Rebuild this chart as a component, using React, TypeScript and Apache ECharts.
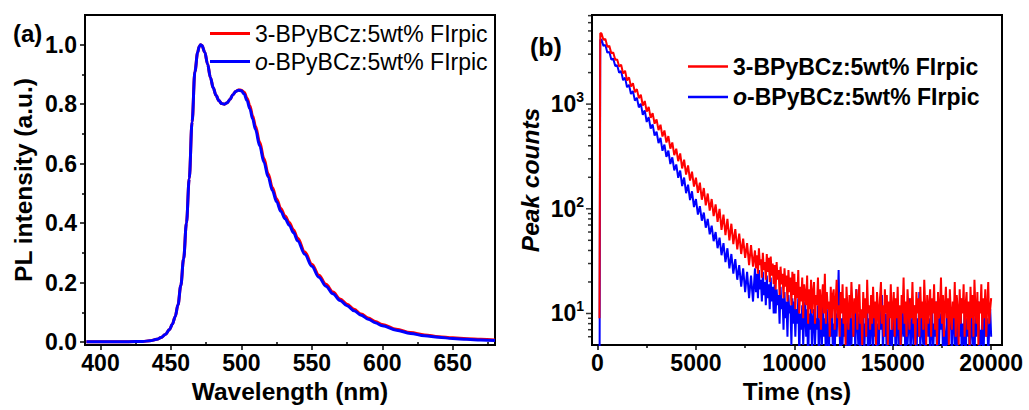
import React, { useEffect, useRef } from "react";
import * as echarts from "echarts";

const FONT = 'Arial, "Liberation Sans", Helvetica, sans-serif';
const RED = "#ff0000";
const BLUE = "#0000ff";

const NAME_RED = "3-BPyBCz:5wt% FIrpic";
const NAME_BLUE = "o-BPyBCz:5wt% FIrpic";

// ---------- (a) PL spectra ----------
const PL_WAVELENGTH = [
  390, 400, 410, 420, 430, 435, 440, 443, 446, 449, 451, 453, 455, 457, 459, 461, 463, 465, 467, 469,
  470, 471, 472, 474, 476, 478, 480, 482, 484, 486, 488, 490, 492, 494, 496, 498, 500, 502, 504, 506,
  508, 510, 513, 516, 519, 522, 525, 528, 531, 534, 537, 540, 545, 550, 555, 560, 565, 570, 575, 580,
  585, 590, 595, 600, 610, 620, 630, 640, 650, 660, 670, 680,
];
const PL_BLUE = [
  0.001, 0.001, 0.001, 0.001, 0.002, 0.004, 0.009, 0.015, 0.025, 0.042, 0.06, 0.085, 0.125, 0.19, 0.28, 0.4, 0.55, 0.74, 0.91, 0.975,
  0.993, 1.0, 0.997, 0.975, 0.935, 0.89, 0.855, 0.83, 0.812, 0.802, 0.8, 0.805, 0.817, 0.832, 0.843, 0.847, 0.845, 0.834, 0.812, 0.785,
  0.75, 0.715, 0.66, 0.605, 0.555, 0.51, 0.472, 0.44, 0.415, 0.393, 0.368, 0.34, 0.295, 0.255, 0.218, 0.188, 0.162, 0.14, 0.122, 0.105,
  0.09, 0.077, 0.065, 0.055, 0.04, 0.029, 0.021, 0.016, 0.012, 0.009, 0.007, 0.005,
];
const PL_RED = [
  0.001, 0.001, 0.001, 0.001, 0.002, 0.004, 0.009, 0.015, 0.025, 0.042, 0.06, 0.085, 0.125, 0.19, 0.28, 0.4, 0.55, 0.74, 0.91, 0.975,
  0.993, 1.0, 0.997, 0.975, 0.935, 0.89, 0.855, 0.83, 0.812, 0.802, 0.8, 0.805, 0.817, 0.832, 0.843, 0.848, 0.847, 0.84, 0.82, 0.795,
  0.76, 0.726, 0.672, 0.617, 0.566, 0.52, 0.481, 0.449, 0.424, 0.402, 0.377, 0.349, 0.303, 0.262, 0.225, 0.194, 0.168, 0.145, 0.127, 0.11,
  0.094, 0.081, 0.069, 0.059, 0.043, 0.032, 0.024, 0.018, 0.014, 0.011, 0.009, 0.007,
];
const PL_X_MIN = 389;
const PL_X_MAX = 680;
const PL_Y_MIN = -0.01;
const PL_Y_MAX = 1.1;
const PL_X_TICKS = [400, 450, 500, 550, 600, 650];
const PL_X_MINOR = [425, 475, 525, 575, 625, 675];
const PL_Y_TICKS = [0, 0.2, 0.4, 0.6, 0.8, 1.0];
const PL_Y_MINOR = [0.1, 0.3, 0.5, 0.7, 0.9];

// ---------- (b) transient decay ----------
const DECAY_RISE_T = [100, 140];
const DECAY_RISE_RED = [9, 4750];
const DECAY_RISE_BLUE = [1, 4100];
// early part: 200 ns ... 7900 ns every 100 ns
const DECAY_EARLY_START = 200;
const DECAY_EARLY_STEP = 100;
const DECAY_EARLY_RED = [
  4750, 4120, 4200, 3530, 3600, 3060, 3110, 2650, 2670, 2290,
  2380, 1960, 2080, 1680, 1800, 1470, 1580, 1300, 1390, 1140,
  1230, 970, 1070, 850, 940, 740, 820, 650, 715, 565,
  635, 490, 560, 430, 495, 375, 430, 325, 375, 285,
  338, 243, 295, 212, 260, 186, 226, 163, 198, 142,
  178, 122, 158, 108, 140, 96, 124, 85, 110, 75,
  100, 63, 88, 56, 80, 50, 72, 46, 64, 41,
  58, 37, 52, 34, 47, 29, 45, 28,
];
const DECAY_EARLY_BLUE = [
  4150, 3600, 3680, 3100, 3160, 2670, 2720, 2310, 2350, 1990,
  2070, 1690, 1790, 1450, 1530, 1250, 1330, 1080, 1150, 930,
  1010, 790, 870, 675, 750, 585, 640, 500, 545, 425,
  475, 358, 410, 313, 360, 268, 310, 233, 265, 198,
  232, 165, 199, 141, 170, 121, 147, 104, 124, 88,
  106, 77, 92, 66, 80, 57, 69, 49, 60, 42,
  53, 36, 47, 31, 42, 27, 37, 24, 33, 21,
  29, 18, 27, 16, 25, 14, 23, 13,
];
// late part: 8000 ns ... 20000 ns every 50 ns
const DECAY_LATE_START = 8000;
const DECAY_LATE_STEP = 50;
const DECAY_LATE_RED = [
  40, 27, 36, 24, 42, 29, 33, 22, 38, 26, 31, 21, 37, 25, 34, 20, 35, 23, 30, 19,
  29, 17, 31, 21, 26, 15, 28, 19, 24, 14, 27, 18, 23, 13, 26, 16, 22, 12, 25, 15,
  24, 11, 20, 14, 26, 10, 18, 13, 22, 9, 19, 15, 12, 23, 8, 17, 11, 21, 10, 16,
  20, 8, 15, 12, 22, 9, 17, 7, 14, 19, 10, 24, 8, 16, 11, 13, 6, 18, 9, 15,
  17, 7, 13, 21, 9, 12, 6, 16, 10, 19, 8, 14, 5, 18, 11, 7, 15, 9, 20, 12,
  6, 14, 10, 17, 7, 13, 19, 8, 11, 5, 16, 9, 14, 6, 21, 10, 12, 7, 15, 8,
  18, 9, 13, 5, 16, 11, 7, 14, 20, 8, 12, 6, 17, 10, 15, 5, 13, 9, 19, 7,
  11, 16, 6, 14, 9, 18, 7, 12, 5, 15, 10, 22, 8, 13, 6, 17, 11, 7, 14, 9,
  20, 8, 12, 5, 16, 10, 14, 6, 18, 9, 13, 7, 21, 11, 5, 15, 8, 12, 17, 6,
  14, 10, 19, 7, 13, 5, 16, 9, 11, 22, 8, 15, 6, 12, 18, 9, 14, 5, 17, 10,
  7, 13, 9, 20, 6, 15, 11, 5, 17, 8, 14, 10, 19, 6, 12, 16, 7, 13, 5, 18,
  9, 15, 6, 21, 11, 8, 16, 5, 13, 10, 19, 7, 14, 9, 17, 6, 12, 20, 8, 11,
  14,
];
const DECAY_LATE_BLUE = [
  27, 16, 24, 14, 26, 17, 21, 13, 25, 15, 20, 12, 23, 14, 19, 11, 22, 13, 18, 10,
  19, 10, 17, 12, 15, 8, 18, 11, 14, 7, 16, 9, 13, 6, 15, 10, 12, 5, 14, 8,
  13, 6, 11, 8, 14, 4, 10, 7, 12, 5, 9, 13, 6, 11, 3, 10, 7, 12, 4, 9,
  11, 5, 9, 7, 12, 3, 8, 10, 5, 13, 6, 9, 4, 11, 7, 3, 10, 6, 12, 5,
  8, 4, 10, 6, 12, 26, 7, 3, 9, 5, 11, 6, 8, 4, 10, 7, 3, 12, 5, 9,
  6, 11, 4, 17, 8, 5, 10, 3, 9, 7, 12, 4, 8, 6, 11, 3, 9, 5, 13, 7,
  4, 10, 6, 12, 3, 8, 5, 11, 7, 15, 4, 9, 6, 10, 3, 8, 12, 5, 7, 4,
  9, 6, 11, 3, 8, 13, 5, 10, 4, 7, 12, 6, 9, 3, 11, 5, 8, 14, 4, 7,
  10, 5, 8, 12, 3, 9, 6, 16, 4, 11, 7, 5, 10, 3, 8, 12, 6, 9, 4, 7,
  11, 4, 8, 6, 13, 3, 9, 5, 10, 7, 12, 4, 8, 6, 3, 11, 5, 9, 7, 10,
  4, 8, 12, 5, 9, 3, 7, 11, 6, 14, 4, 8, 5, 10, 3, 9, 6, 12, 4, 7,
  10, 5, 8, 3, 11, 6, 9, 13, 4, 7, 5, 10, 3, 8, 12, 6, 9, 4, 7, 11,
  6,
];
const DECAY_X_MIN = -280;
const DECAY_X_MAX = 20550;
const DECAY_Y_MIN = 5;
const DECAY_Y_MAX = 7100;
const DECAY_X_TICKS = [0, 5000, 10000, 15000, 20000];
const DECAY_X_MINOR = [2500, 7500, 12500, 17500];
const DECAY_Y_MAJOR = [10, 100, 1000];
const DECAY_Y_MINOR = [
  6, 7, 8, 9, 20, 30, 40, 50, 60, 70, 80, 90, 200, 300, 400, 500, 600, 700, 800, 900,
  2000, 3000, 4000, 5000, 6000, 7000,
];

function legendFormatter(name: string) {
  if (name.indexOf("o-") === 0) return "{i|o}" + name.slice(1);
  return name;
}

function buildDecay(rise: number[], early: number[], late: number[]) {
  return [
    ...DECAY_RISE_T.map((t, i) => [t, rise[i]]),
    ...early.map((v, i) => [DECAY_EARLY_START + i * DECAY_EARLY_STEP, v]),
    ...late.map((v, i) => [DECAY_LATE_START + i * DECAY_LATE_STEP, v]),
  ];
}

export default function App() {
  const ref = useRef<HTMLDivElement>(null);

  useEffect(() => {
    if (!ref.current) return;
    const chart = echarts.init(ref.current, null, { renderer: "svg" });

    const axisLine = { show: true, onZero: false, lineStyle: { color: "#000", width: 2 } };
    const tickLine = { color: "#000", width: 1.5 };
    const labelStyle = { color: "#000", fontSize: 23, fontWeight: "bold", fontFamily: FONT };
    const nameStyle = { color: "#000", fontSize: 24.5, fontWeight: "bold", fontFamily: FONT };

    const plRed = PL_WAVELENGTH.map((w, i) => [w, PL_RED[i]]);
    const plBlue = PL_WAVELENGTH.map((w, i) => [w, PL_BLUE[i]]);
    const decayRed = buildDecay(DECAY_RISE_RED, DECAY_EARLY_RED, DECAY_LATE_RED);
    const decayBlue = buildDecay(DECAY_RISE_BLUE, DECAY_EARLY_BLUE, DECAY_LATE_BLUE);

    const minorX = (gridIndex: number, min: number, max: number, values: number[]) => ({
      type: "value",
      gridIndex,
      min,
      max,
      position: "bottom",
      axisLine: { show: false },
      axisTick: { show: true, inside: false, length: 3, customValues: values, lineStyle: tickLine },
      axisLabel: { show: false },
      splitLine: { show: false },
    });

    const option: any = {
      animation: false,
      backgroundColor: "#fff",
      grid: [
        { left: 85, right: 534, top: 15, bottom: 65, show: true, borderColor: "#000", borderWidth: 2 },
        { left: 592, right: 27, top: 15, bottom: 65, show: true, borderColor: "#000", borderWidth: 2 },
      ],
      xAxis: [
        {
          type: "value",
          gridIndex: 0,
          min: PL_X_MIN,
          max: PL_X_MAX,
          position: "bottom",
          axisLine,
          axisTick: { show: true, inside: false, length: 5, customValues: PL_X_TICKS, lineStyle: tickLine },
          axisLabel: { ...labelStyle, margin: 6, customValues: PL_X_TICKS, formatter: (v: number) => String(v) },
          splitLine: { show: false },
          name: "Wavelength (nm)",
          nameLocation: "middle",
          nameGap: 32,
          nameTextStyle: nameStyle,
        },
        minorX(0, PL_X_MIN, PL_X_MAX, PL_X_MINOR),
        {
          type: "value",
          gridIndex: 1,
          min: DECAY_X_MIN,
          max: DECAY_X_MAX,
          position: "bottom",
          axisLine,
          axisTick: { show: true, inside: false, length: 5, customValues: DECAY_X_TICKS, lineStyle: tickLine },
          axisLabel: { ...labelStyle, margin: 6, customValues: DECAY_X_TICKS, formatter: (v: number) => String(v) },
          splitLine: { show: false },
          name: "Time (ns)",
          nameLocation: "middle",
          nameGap: 32,
          nameTextStyle: nameStyle,
        },
        minorX(1, DECAY_X_MIN, DECAY_X_MAX, DECAY_X_MINOR),
      ],
      yAxis: [
        {
          type: "value",
          gridIndex: 0,
          min: PL_Y_MIN,
          max: PL_Y_MAX,
          position: "left",
          axisLine,
          axisTick: { show: true, inside: false, length: 5, customValues: PL_Y_TICKS, lineStyle: tickLine },
          axisLabel: { ...labelStyle, margin: 8, customValues: PL_Y_TICKS, formatter: (v: number) => v.toFixed(1) },
          splitLine: { show: false },
          name: "PL intensity (a.u.)",
          nameLocation: "middle",
          nameGap: 49,
          nameTextStyle: nameStyle,
        },
        {
          type: "value",
          gridIndex: 0,
          min: PL_Y_MIN,
          max: PL_Y_MAX,
          position: "left",
          axisLine: { show: false },
          axisTick: { show: true, inside: false, length: 3, customValues: PL_Y_MINOR, lineStyle: tickLine },
          axisLabel: { show: false },
          splitLine: { show: false },
        },
        {
          type: "log",
          logBase: 10,
          gridIndex: 1,
          min: DECAY_Y_MIN,
          max: DECAY_Y_MAX,
          position: "left",
          axisLine,
          axisTick: { show: false },
          minorTick: { show: false },
          axisLabel: {
            margin: 8,
            showMinLabel: false,
            showMaxLabel: false,
            color: "#000",
            formatter: (v: number) => "{b|10}{s|" + Math.round(Math.log10(v)) + "}",
            rich: {
              b: { fontSize: 23, fontWeight: "bold", fontFamily: FONT, color: "#000", lineHeight: 28 },
              s: { fontSize: 14, fontWeight: "bold", fontFamily: FONT, color: "#000", verticalAlign: "top", lineHeight: 14 },
            },
          },
          splitLine: { show: false },
          name: "Peak counts",
          nameLocation: "middle",
          nameGap: 49,
          nameTextStyle: { ...nameStyle, fontStyle: "italic" },
        },
      ],
      legend: [
        {
          left: 210,
          top: 22,
          padding: 0,
          orient: "vertical",
          icon: "rect",
          itemWidth: 40,
          itemHeight: 3,
          itemGap: 5,
          data: [NAME_RED, NAME_BLUE],
          formatter: legendFormatter,
          textStyle: {
            color: "#000",
            fontSize: 23,
            fontFamily: FONT,
            lineHeight: 22,
            rich: { i: { fontStyle: "italic", fontSize: 23, fontFamily: FONT, color: "#000", lineHeight: 22 } },
          },
          selectedMode: false,
        },
        {
          left: 688,
          top: 55,
          padding: 0,
          orient: "vertical",
          icon: "rect",
          itemWidth: 40,
          itemHeight: 2.5,
          itemGap: 7.5,
          data: [NAME_RED, NAME_BLUE],
          formatter: legendFormatter,
          textStyle: {
            color: "#000",
            fontSize: 23,
            fontWeight: "bold",
            fontFamily: FONT,
            lineHeight: 22,
            rich: {
              i: { fontStyle: "italic", fontWeight: "bold", fontSize: 23, fontFamily: FONT, color: "#000", lineHeight: 22 },
            },
          },
          selectedMode: false,
        },
      ],
      graphic: [
        { type: "text", left: 13, top: 21, style: { text: "(a)", fill: "#000", font: `bold 24px ${FONT}` } },
        { type: "text", left: 530, top: 34, style: { text: "(b)", fill: "#000", font: `bold 25px ${FONT}` } },
      ],
      series: [
        {
          name: NAME_RED,
          type: "line",
          xAxisIndex: 0,
          yAxisIndex: 0,
          data: plRed,
          symbol: "none",
          showSymbol: false,
          smooth: 0.35,
          smoothMonotone: "x",
          lineStyle: { color: RED, width: 3 },
          itemStyle: { color: RED },
        },
        {
          name: NAME_BLUE,
          type: "line",
          xAxisIndex: 0,
          yAxisIndex: 0,
          data: plBlue,
          symbol: "none",
          showSymbol: false,
          smooth: 0.35,
          smoothMonotone: "x",
          lineStyle: { color: BLUE, width: 3 },
          itemStyle: { color: BLUE },
        },
        {
          name: NAME_BLUE,
          type: "line",
          xAxisIndex: 2,
          yAxisIndex: 2,
          data: decayBlue,
          symbol: "none",
          showSymbol: false,
          lineStyle: { color: BLUE, width: 2 },
          itemStyle: { color: BLUE },
        },
        {
          name: NAME_RED,
          type: "line",
          xAxisIndex: 2,
          yAxisIndex: 2,
          data: decayRed,
          symbol: "none",
          showSymbol: false,
          lineStyle: { color: RED, width: 2 },
          itemStyle: { color: RED },
        },
        {
          type: "scatter",
          xAxisIndex: 2,
          yAxisIndex: 2,
          data: DECAY_Y_MAJOR.map((v) => [DECAY_X_MIN, v]),
          symbol: "rect",
          symbolSize: [5, 1.5],
          symbolOffset: [-3.5, 0],
          itemStyle: { color: "#000" },
          clip: false,
          silent: true,
          z: 5,
        },
        {
          type: "scatter",
          xAxisIndex: 2,
          yAxisIndex: 2,
          data: DECAY_Y_MINOR.map((v) => [DECAY_X_MIN, v]),
          symbol: "rect",
          symbolSize: [3, 1.5],
          symbolOffset: [-2.5, 0],
          itemStyle: { color: "#000" },
          clip: false,
          silent: true,
          z: 5,
        },
      ],
    };

    chart.setOption(option);
    return () => chart.dispose();
  }, []);

  return (
    <div
      ref={ref}
      style={{ position: "fixed", left: 0, top: 0, width: 1029, height: 410, background: "#fff" }}
    />
  );
}
